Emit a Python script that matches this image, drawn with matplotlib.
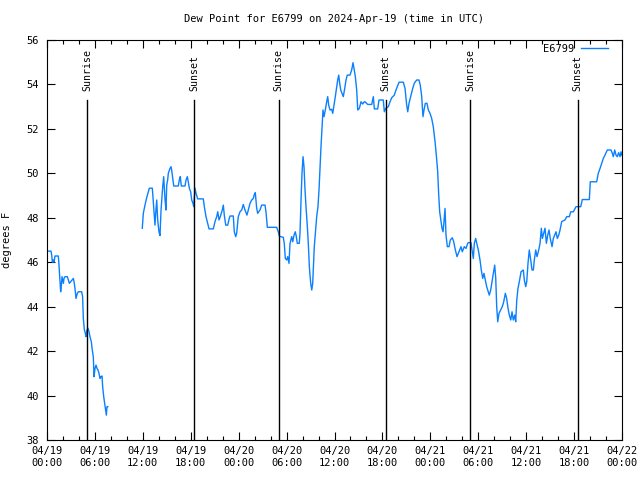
import numpy as np
import matplotlib
matplotlib.use("Agg")
import matplotlib.pyplot as plt

# hours after 2024-04-19 00:00 UTC, dew point in degrees F (NaN = no data)
hours = [
    0.0, 0.5, 0.59, 0.67, 0.79, 0.88, 1.0, 1.42, 1.5, 1.63, 1.71, 1.8, 1.88, 1.96,
    2.05, 2.13, 2.25, 2.55, 2.67, 2.8, 2.96, 3.13, 3.3, 3.42, 3.55, 3.63, 3.8, 3.92,
    4.34, 4.46, 4.55, 4.67, 4.8, 4.88, 5.0, 5.13, 5.26, 5.38, 5.55, 5.67, 5.8, 5.89,
    6.01, 6.14, 6.26, 6.39, 6.51, 6.64, 6.76, 6.89, 6.97, 7.1, 7.22, 7.35, 7.43, 7.51,
    7.6,
    9.5,
    11.93, 12.06, 12.27, 12.48, 12.81, 13.19, 13.31, 13.44, 13.52, 13.61, 13.74, 13.86,
    14.02, 14.15, 14.28, 14.49, 14.61, 14.78, 14.9, 14.99, 15.11, 15.19, 15.4, 15.53,
    15.61, 15.74, 15.87, 16.44, 16.57, 16.69, 16.82, 17.28, 17.41, 17.57, 17.69, 17.82,
    17.99, 18.12, 18.28, 18.37, 18.53, 18.66, 18.87, 19.57, 19.7, 19.91, 20.12, 20.29,
    20.82, 21.04, 21.25, 21.38, 21.54, 21.7, 21.95, 22.08, 22.2, 22.38, 22.63, 22.79,
    22.92, 23.33, 23.45, 23.63, 23.75, 23.95, 24.17, 24.38, 24.58, 24.79, 25.04, 25.21,
    25.42, 25.63, 25.83, 25.96, 26.08, 26.26, 26.38, 26.67, 26.88, 27.3, 27.42, 27.59,
    28.76, 28.96, 29.09, 29.26, 29.59, 29.71, 29.84, 30.02, 30.14, 30.3, 30.43, 30.64,
    30.77, 30.93, 31.09, 31.22, 31.34, 31.59, 31.68, 31.81, 31.93, 32.06, 32.18, 32.31,
    32.43, 32.6, 32.72, 32.85, 33.02, 33.15, 33.27, 33.35, 33.47, 33.65, 33.77, 33.93,
    34.06, 34.19, 34.31, 34.44, 34.56, 34.69, 34.85, 35.02, 35.15, 35.27, 35.44, 35.65,
    35.78, 35.94, 36.1, 36.28, 36.4, 36.53, 36.65, 36.78, 36.94, 37.1, 37.28, 37.44,
    37.6, 37.94, 38.15, 38.32, 38.44, 38.61, 38.78, 38.91, 39.11, 39.32, 39.53, 39.73,
    39.82, 40.16, 40.66, 40.86, 40.99, 41.41, 41.57, 42.11, 42.24, 42.41, 42.74, 42.95,
    43.16, 43.49, 43.7, 43.86, 44.08, 44.62, 44.83, 45.04, 45.17, 45.33, 45.58, 45.79,
    45.99, 46.29, 46.58, 46.74, 46.92, 47.08, 47.21, 47.37, 47.58, 47.75, 47.96, 48.17,
    48.37, 48.59, 48.75, 48.92, 49.05, 49.17, 49.34, 49.46, 49.59, 49.71, 49.84, 49.96,
    50.13, 50.34, 50.5, 50.75, 50.93, 51.09, 51.34, 51.59, 51.84, 52.0, 52.25, 52.47,
    52.68, 52.75, 53.09, 53.26, 53.38, 53.51, 53.68, 53.81, 54.01, 54.22, 54.38, 54.56,
    54.72, 54.88, 55.06, 55.26, 55.38, 55.56, 55.72, 55.89, 56.06, 56.19, 56.31, 56.44,
    56.6, 56.81, 57.01, 57.19, 57.39, 57.56, 57.73, 57.89, 58.07, 58.23, 58.39, 58.57,
    58.69, 58.82, 58.98, 59.14, 59.36, 59.64, 59.77, 59.94, 60.07, 60.23, 60.39, 60.57,
    60.73, 60.9, 61.02, 61.2, 61.36, 61.52, 61.74, 61.9, 62.03, 62.2, 62.36, 62.53,
    62.7, 62.86, 63.02, 63.24, 63.4, 63.57, 63.74, 63.9, 64.08, 64.24, 64.45, 64.86,
    65.08, 65.41, 65.58, 65.91, 66.12, 66.24, 66.83, 67.03, 67.91, 68.03, 68.83, 69.03,
    69.25, 69.46, 69.66, 69.87, 70.16, 70.62, 70.79, 70.91, 71.09, 71.25, 71.41, 71.58,
    71.75, 71.88, 72.0,
]
dew_point = [
    46.5, 46.5, 46.32, 46.0, 46.1, 46.0, 46.28, 46.28, 45.87, 45.12, 44.67, 44.97, 45.35, 45.2,
    45.05, 45.27, 45.35, 45.35, 45.2, 45.05, 45.12, 45.2, 45.27, 45.05, 44.67, 44.37, 44.6, 44.67,
    44.67, 44.45, 43.47, 42.98, 42.8, 42.65, 42.95, 43.03, 42.88, 42.65, 42.42, 42.05, 41.75, 40.85,
    41.22, 41.37, 41.22, 41.15, 41.0, 40.77, 40.85, 40.88, 40.4, 39.95, 39.65, 39.35, 39.12, 39.5,
    39.5,
    np.nan,
    47.53, 48.2, 48.57, 48.9, 49.33, 49.33, 48.72, 48.05, 47.67, 48.2, 48.8, 47.9,
    47.37, 47.2, 48.35, 49.4, 49.85, 48.8, 48.35, 49.47, 49.7, 50.0, 50.22, 50.3,
    50.15, 49.78, 49.43, 49.43, 49.7, 49.85, 49.43, 49.43, 49.7, 49.85, 49.62, 49.33,
    49.17, 48.8, 48.65, 48.5, 49.33, 49.1, 48.85, 48.85, 48.5, 48.05, 47.75, 47.5,
    47.5, 47.83, 48.05, 48.27, 47.9, 48.05, 48.35, 48.57, 48.12, 47.67, 47.67, 47.93,
    48.08, 48.08, 47.37, 47.15, 47.3, 48.05, 48.27, 48.35, 48.6, 48.35, 48.12, 48.35,
    48.65, 48.8, 48.87, 49.05, 49.13, 48.42, 48.2, 48.35, 48.57, 48.57, 48.27, 47.57,
    47.57, 47.37, 47.18, 47.15, 47.12, 46.85, 46.17, 46.1, 46.25, 45.95, 46.85, 47.15,
    46.92, 47.22, 47.37, 47.15, 46.85, 46.85, 47.3, 48.8, 50.0, 50.75, 50.3, 49.25,
    48.5, 47.6, 46.85, 45.8, 45.05, 44.75, 45.05, 45.72, 46.7, 47.53, 48.05, 48.5,
    49.25, 50.3, 51.2, 52.1, 52.85, 52.55, 52.85, 53.22, 53.45, 53.07, 52.85, 52.88,
    52.7, 53.07, 53.45, 53.9, 54.2, 54.42, 54.05, 53.75, 53.6, 53.45, 53.82, 54.2,
    54.42, 54.42, 54.65, 54.98, 54.72, 54.35, 53.75, 52.85, 52.92, 53.22, 53.12, 53.22,
    53.22, 53.1, 53.1, 53.45, 52.9, 52.9, 53.3, 53.3, 52.77, 52.92, 53.0, 53.22,
    53.4, 53.52, 53.75, 53.9, 54.1, 54.1, 53.82, 53.07, 52.77, 53.15, 53.52, 53.82,
    54.05, 54.2, 54.2, 53.97, 53.45, 52.55, 52.85, 53.15, 53.15, 52.85, 52.7, 52.47,
    52.1, 51.42, 50.82, 50.07, 49.02, 48.27, 47.83, 47.53, 47.37, 47.83, 48.42, 47.22,
    46.7, 46.7, 47.0, 47.1, 46.92, 46.62, 46.25, 46.47, 46.7, 46.47, 46.7, 46.62,
    46.85, 46.88, 46.88, 46.47, 46.17, 46.85, 47.07, 46.85, 46.55, 46.1, 45.65, 45.27,
    45.5, 45.2, 44.9, 44.67, 44.52, 44.75, 45.12, 45.5, 45.87, 45.27, 44.0, 43.32,
    43.7, 43.85, 44.0, 44.22, 44.6, 44.37, 43.92, 43.62, 43.4, 43.77, 43.4, 43.62,
    43.32, 44.3, 44.83, 45.12, 45.57, 45.65, 45.2, 44.9, 45.12, 45.95, 46.55, 46.1,
    45.65, 45.65, 46.1, 46.55, 46.25, 46.47, 46.85, 47.53, 47.07, 47.3, 47.53, 46.85,
    47.22, 47.45, 47.07, 46.7, 47.07, 47.22, 47.37, 47.07, 47.22, 47.45, 47.83, 47.9,
    48.05, 48.05, 48.27, 48.27, 48.42, 48.5, 48.5, 48.82, 48.82, 49.62, 49.62, 50.0,
    50.22, 50.45, 50.67, 50.82, 51.05, 51.05, 50.9, 50.75, 51.05, 50.82, 50.75, 50.93,
    50.75, 50.97, 50.8,
]

sun_hours = [5.05, 18.4, 29.03, 42.43, 53.0, 66.45]
sun_labels = ["Sunrise", "Sunset", "Sunrise", "Sunset", "Sunrise", "Sunset"]

tick_hours = list(range(0, 73, 6))
tick_labels = ["04/19\n00:00", "04/19\n06:00", "04/19\n12:00", "04/19\n18:00",
               "04/20\n00:00", "04/20\n06:00", "04/20\n12:00", "04/20\n18:00",
               "04/21\n00:00", "04/21\n06:00", "04/21\n12:00", "04/21\n18:00",
               "04/22\n00:00"]

plt.rcParams["font.family"] = ["DejaVu Sans Mono"]
fs = 7.5

fig = plt.figure(figsize=(6.4, 4.8), dpi=100)
ax = fig.add_axes([47 / 640, 40 / 480, 575 / 640, 400 / 480])

ax.plot(hours, dew_point, color="#0a80ff", lw=1.0, label="E6799")

for h, lab in zip(sun_hours, sun_labels):
    ax.plot([h, h], [38, 53.3], color="black", lw=1.0)
    ax.text(h, 53.7, lab, rotation=90, ha="center", va="bottom", fontsize=7.1)

ax.set_xlim(0, 72)
ax.set_ylim(38, 56)
ax.set_xticks(tick_hours)
ax.set_xticklabels(tick_labels, linespacing=1.25)
ax.set_xticks(np.arange(0, 73, 2), minor=True)
ax.set_yticks(np.arange(38, 57, 2))
ax.tick_params(axis="both", which="both", direction="in", top=True, right=True,
               labelsize=fs, width=0.8, color="black")
ax.tick_params(axis="x", which="major", length=6, pad=4)
ax.tick_params(axis="x", which="minor", length=3)
ax.tick_params(axis="y", which="major", length=6, pad=6)
for s in ax.spines.values():
    s.set_linewidth(0.8)

ax.set_ylabel("degrees F", fontsize=fs, labelpad=10)
ax.set_title("Dew Point for E6799 on 2024-Apr-19 (time in UTC)", fontsize=fs, pad=13)

leg = ax.legend(loc="upper right", bbox_to_anchor=(0.979, 0.995), frameon=False,
                fontsize=fs, handlelength=2.6, handletextpad=0.6,
                borderaxespad=0.0, borderpad=0.2, markerfirst=False)

fig.savefig("out.png", dpi=100)
